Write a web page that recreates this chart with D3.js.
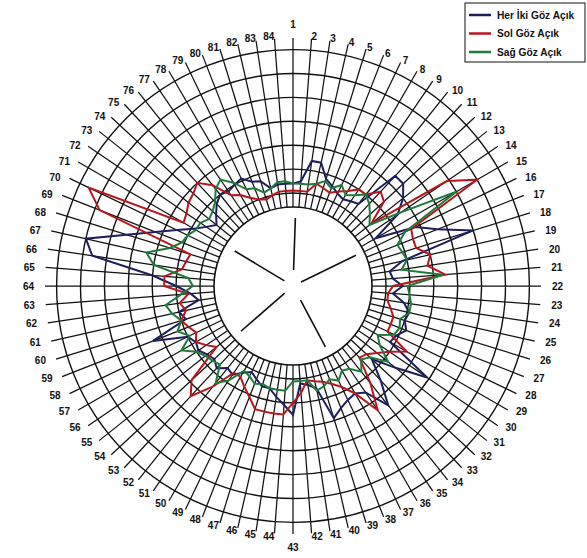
<!DOCTYPE html>
<html>
<head>
<meta charset="utf-8">
<script src="https://cdn.jsdelivr.net/npm/d3@7"></script>
<style>
  html, body { margin: 0; padding: 0; background: #fff; }
  svg { display: block; }
</style>
</head>
<body>
<svg id="chart" width="587" height="558"></svg>
<script>
// ---- data -------------------------------------------------------------
const spokeLabels = d3.range(1, 85).map(String);          // 84 axes, 1..84
const ringValues = [10, 20, 30, 40, 50, 60, 70];

const seriesNames = ["Her İki Göz Açık", "Sol Göz Açık", "Sağ Göz Açık"];
const seriesColors = ["#1c1f5c", "#b8161c", "#1f7a3c"];

// Her İki Göz Açık
const herIkiGoz = [
  14, 15, 24, 24, 18, 16, 14, 13, 14, 15, 34, 34, 30, 24, 11, 28, 36, 50, 18, 12, 13,
  17, 13, 18, 21, 20, 22, 19, 18, 39, 26, 16, 25, 35, 25, 23, 24, 26, 29, 15, 13, 12,
  25, 21, 18, 15, 15, 13, 11, 13, 16, 15, 18, 16, 17, 19, 18, 20, 34, 18, 20, 11, 14,
  20, 30, 56, 60, 44, 33, 25, 19, 15, 12, 15, 18, 20, 19, 20, 21, 18, 17, 13, 14, 14
];
// Sol Göz Açık
const solGoz = [
  11, 11, 11, 15, 14, 13, 15, 17, 20, 20, 25, 23, 13, 49, 60, 26, 25, 25, 30, 28, 35,
  13, 11, 11, 13, 15, 15, 15, 26, 20, 16, 13, 12, 23, 34, 23, 18, 15, 13, 12, 11, 16,
  20, 25, 25, 25, 25, 21, 18, 15, 15, 25, 34, 29, 12, 15, 18, 16, 18, 20, 17, 19, 15,
  25, 25, 18, 17, 16, 58, 66, 24, 25, 27, 28, 30, 25, 17, 15, 12, 10, 9, 10, 11, 11
];
// Sağ Göz Açık
const sagGoz = [
  14, 14, 14, 15, 17, 15, 18, 15, 17, 20, 18, 15, 12, 26, 50, 23, 18, 19, 20, 17, 34,
  19, 20, 21, 21, 18, 19, 18, 12, 15, 22, 15, 13, 17, 13, 12, 15, 13, 15, 16, 11, 11,
  11, 15, 15, 15, 14, 15, 13, 12, 19, 23, 16, 17, 18, 20, 25, 19, 23, 20, 23, 25, 18,
  13, 15, 30, 34, 25, 21, 20, 18, 18, 16, 17, 19, 23, 25, 21, 16, 15, 12, 13, 15, 15
];
const seriesValues = [herIkiGoz, solGoz, sagGoz];

// ---- layout -----------------------------------------------------------
const width = 587, height = 558;
const cx = 293, cy = 286;
const innerRadius = 79;     // white hub
const spokeEnd = 248;       // outer end of each axis line

const svg = d3.select("#chart");
svg.append("rect").attr("width", width).attr("height", height).attr("fill", "#fff");

const g = svg.append("g").attr("transform", `translate(${cx},${cy})`);

const angle = d3.scaleLinear().domain([0, spokeLabels.length]).range([0, 2 * Math.PI]);
const r = d3.scaleLinear().domain([10, 70]).range([93, 236.4]);

const fontFam = "'Liberation Sans', Arial, sans-serif";

// rings
g.append("g").selectAll("circle")
  .data(ringValues)
  .join("circle")
  .attr("r", d => r(d))
  .attr("fill", "none")
  .attr("stroke", "#111")
  .attr("stroke-width", 1.4);

// axis lines
g.append("g").selectAll("line")
  .data(spokeLabels)
  .join("line")
  .attr("x1", (d, i) => innerRadius * Math.sin(angle(i)))
  .attr("y1", (d, i) => -innerRadius * Math.cos(angle(i)))
  .attr("x2", (d, i) => spokeEnd * Math.sin(angle(i)))
  .attr("y2", (d, i) => -spokeEnd * Math.cos(angle(i)))
  .attr("stroke", "#111")
  .attr("stroke-width", 1.25);

// axis labels: beside the end of each axis, above / below for the vertical ones
g.append("g").selectAll("text")
  .data(spokeLabels)
  .join("text")
  .each(function (d, i) {
    const a = angle(i);
    const s = Math.sin(a), c = Math.cos(a);
    const ex = spokeEnd * s, ey = -spokeEnd * c;
    const t = d3.select(this);
    if (Math.abs(s) < 0.01) {
      t.attr("x", ex).attr("y", ey - Math.sign(c) * 13.5).attr("text-anchor", "middle");
    } else {
      t.attr("x", ex + Math.sign(s) * 11 * s * s)
       .attr("y", ey - 2.5 * c + 0.5)
       .attr("text-anchor", s > 0 ? "start" : "end");
    }
  })
  .attr("dominant-baseline", "central")
  .attr("font-family", fontFam)
  .attr("font-size", 10)
  .attr("font-weight", "bold")
  .attr("fill", "#111")
  .text(d => d);

// series outlines
const radial = d3.lineRadial()
  .angle((d, i) => angle(i))
  .radius(d => r(d))
  .curve(d3.curveLinearClosed);

g.append("g").selectAll("path")
  .data(seriesValues)
  .join("path")
  .attr("d", d => radial(d))
  .attr("fill", "none")
  .attr("stroke", (d, i) => seriesColors[i])
  .attr("stroke-width", 2)
  .attr("stroke-linejoin", "miter");

// white hub with its star of five strokes
g.append("circle")
  .attr("r", innerRadius)
  .attr("fill", "#fff")
  .attr("stroke", "#111")
  .attr("stroke-width", 1.6);

const hubStrokes = [
  { deg: 2, from: 16, to: 68 },
  { deg: 64, from: 9, to: 70 },
  { deg: 152, from: 16, to: 69 },
  { deg: 229, from: 11, to: 69 },
  { deg: 301, from: 10, to: 68 }
];
g.append("g").selectAll("line")
  .data(hubStrokes)
  .join("line")
  .attr("x1", d => d.from * Math.sin(d.deg * Math.PI / 180))
  .attr("y1", d => -d.from * Math.cos(d.deg * Math.PI / 180))
  .attr("x2", d => d.to * Math.sin(d.deg * Math.PI / 180))
  .attr("y2", d => -d.to * Math.cos(d.deg * Math.PI / 180))
  .attr("stroke", "#111")
  .attr("stroke-width", 1.6);

// legend
const legend = svg.append("g").attr("transform", "translate(465,3)");
legend.append("rect")
  .attr("width", 120).attr("height", 59)
  .attr("fill", "#fff").attr("stroke", "#111").attr("stroke-width", 1);
const item = legend.selectAll("g.item")
  .data(seriesNames)
  .join("g")
  .attr("class", "item")
  .attr("transform", (d, i) => `translate(0,${12 + i * 18.5})`);
item.append("line")
  .attr("x1", 4).attr("x2", 26)
  .attr("stroke", (d, i) => seriesColors[i])
  .attr("stroke-width", 2.5);
item.append("text")
  .attr("x", 32).attr("y", 0)
  .attr("dominant-baseline", "central")
  .attr("font-family", fontFam)
  .attr("font-size", 10.2)
  .attr("font-weight", "bold")
  .attr("fill", "#111")
  .text(d => d);
</script>
</body>
</html>
